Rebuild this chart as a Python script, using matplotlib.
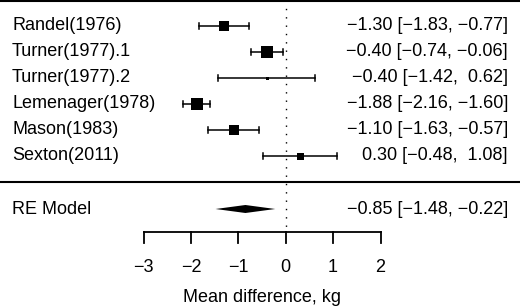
import matplotlib.pyplot as plt

plt.rcParams['font.family'] = ['Liberation Sans', 'DejaVu Sans']

studies = ["Randel(1976)", "Turner(1977).1", "Turner(1977).2",
           "Lemenager(1978)", "Mason(1983)", "Sexton(2011)"]
est = [-1.30, -0.40, -0.40, -1.88, -1.10, 0.30]
lo = [-1.83, -0.74, -1.42, -2.16, -1.63, -0.48]
hi = [-0.77, -0.06, 0.62, -1.60, -0.57, 1.08]
box_px = [10, 11.5, 3, 12.5, 10, 7]  # box size follows study weight

re_est, re_lo, re_hi = -0.85, -1.48, -0.22
ticks = [-3, -2, -1, 0, 1, 2]

# figure is 520x308 px; x in data units, y in pixels from top
px_per_unit = 47.4
x0_px = 285.7
W, H = 520, 308

fig = plt.figure(figsize=(5.2, 3.08), dpi=100)
ax = fig.add_axes([0, 0, 1, 1])
ax.set_xlim(-x0_px / px_per_unit, (W - x0_px) / px_per_unit)
ax.set_ylim(H, 0)
ax.axis('off')

def fmt(v):
    return f"{v:.2f}".replace("-", "\u2212")

def ci_text(e, l, h):
    hs = fmt(h)
    if h >= 0:
        hs = " " + hs
    return f"{fmt(e)} [{fmt(l)}, {hs}]"

xl = ax.get_xlim()
xlab = xl[0] + 12 / px_per_unit
xright = xl[0] + 508 / px_per_unit
fs = 13

ax.plot(xl, [1, 1], color='black', lw=1.5)
ax.plot(xl, [182, 182], color='black', lw=1.5)
ax.plot([0, 0], [0, 227], color='black', lw=1, ls=(0, (1, 5)))

for i, name in enumerate(studies):
    y = 26 + 26 * i
    ax.plot([lo[i], hi[i]], [y, y], color='black', lw=1.1)
    for c in (lo[i], hi[i]):
        ax.plot([c, c], [y - 3, y + 3], color='black', lw=1.1)
    ax.plot(est[i], y, marker='s', color='black',
            markersize=box_px[i] * 0.72, markeredgewidth=0)
    ax.text(xlab, y, name, fontsize=fs, va='center', ha='left')
    ax.text(xright, y, ci_text(est[i], lo[i], hi[i]), fontsize=fs,
            va='center', ha='right')

yre = 209
ax.fill([re_lo, re_est, re_hi, re_est], [yre, yre - 4, yre, yre + 4],
        color='black', lw=0)
ax.text(xlab, yre, "RE Model", fontsize=fs, va='center', ha='left')
ax.text(xright, yre, ci_text(re_est, re_lo, re_hi), fontsize=fs,
        va='center', ha='right')

ax.plot([ticks[0], ticks[-1]], [232, 232], color='black', lw=1.3)
for t in ticks:
    ax.plot([t, t], [232, 243], color='black', lw=1.3)
    ax.text(t, 267, f"{t}".replace("-", "\u2212"), fontsize=fs,
            ha='center', va='center')
ax.text(sum(ticks[::len(ticks) - 1]) / 2, 298, "Mean difference, kg",
        fontsize=fs, ha='center', va='center')

fig.savefig("out.png", dpi=100)
